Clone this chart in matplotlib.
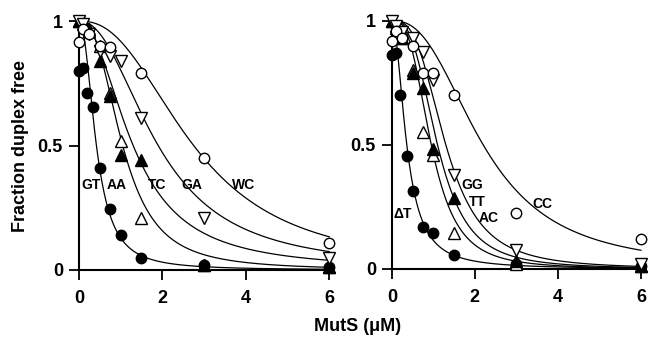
#!/usr/bin/env python3
"""
plot.py
-------
MutS binding titration: fraction of duplex left free vs MutS concentration,
two panels (mismatch sets), points + Hill-type fit curves.
"""

import numpy as np
import matplotlib
matplotlib.use("Agg")  # headless plotting
import matplotlib.pyplot as plt

plt.rcParams["font.family"] = ["Liberation Sans", "DejaVu Sans"]
plt.rcParams["font.weight"] = "bold"

# ── Left panel data ──
gt_x = [0, 0.1, 0.2, 0.35, 0.5, 0.75, 1.0, 1.5, 3.0, 6.0]
gt_y = [0.80, 0.81, 0.71, 0.655, 0.41, 0.245, 0.14, 0.05, 0.02, 0.01]
aa_x = [0, 0.1, 0.25, 0.5, 0.75, 1.0, 1.5, 3.0, 6.0]
aa_y = [1.0, 0.99, 0.96, 0.90, 0.71, 0.52, 0.21, 0.02, 0.01]
tc_x = [0, 0.1, 0.25, 0.5, 0.75, 1.0, 1.5, 3.0, 6.0]
tc_y = [1.0, 1.0, 0.97, 0.84, 0.70, 0.46, 0.44, 0.02, 0.01]
ga_x = [0, 0.1, 0.25, 0.5, 0.75, 1.0, 1.5, 3.0, 6.0]
ga_y = [1.0, 0.99, 0.95, 0.88, 0.86, 0.84, 0.61, 0.21, 0.05]
wc_x = [0, 0.1, 0.25, 0.5, 0.75, 1.5, 3.0, 6.0]
wc_y = [0.915, 0.97, 0.95, 0.90, 0.895, 0.79, 0.45, 0.11]

# ── Right panel data ──
dt_x = [0, 0.1, 0.2, 0.375, 0.5, 0.75, 1.0, 1.5, 3.0, 6.0]
dt_y = [0.86, 0.87, 0.70, 0.455, 0.315, 0.17, 0.145, 0.056, 0.02, 0.01]
ac_x = [0, 0.1, 0.25, 0.5, 0.75, 1.0, 1.5, 3.0, 6.0]
ac_y = [1.0, 0.97, 0.93, 0.80, 0.55, 0.46, 0.145, 0.02, 0.01]
tt_x = [0, 0.1, 0.25, 0.5, 0.75, 1.0, 1.5, 3.0, 6.0]
tt_y = [1.0, 0.98, 0.93, 0.79, 0.73, 0.485, 0.285, 0.03, 0.01]
gg_x = [0, 0.1, 0.25, 0.5, 0.75, 1.0, 1.5, 3.0, 6.0]
gg_y = [1.0, 0.98, 0.955, 0.93, 0.875, 0.76, 0.38, 0.077, 0.02]
cc_x = [0, 0.1, 0.25, 0.5, 0.75, 1.0, 1.5, 3.0, 6.0]
cc_y = [0.92, 0.96, 0.93, 0.90, 0.79, 0.79, 0.70, 0.225, 0.12]

# fit curves: f = 1 / (1 + (x/K)^n), K and n
left_names = ["GT", "AA", "TC", "GA", "WC"]
left_K = [0.42, 1.05, 1.3, 1.9, 2.75]
left_n = [2.2, 2.6, 2.1, 2.2, 2.4]
right_names = ["ΔT", "AC", "TT", "GG", "CC"]
right_K = [0.36, 0.95, 1.1, 1.3, 2.2]
right_n = [2.0, 3.0, 3.0, 3.0, 2.5]

# label positions (data coords)
left_lab_x = [0.29, 0.91, 1.87, 2.7, 3.94]
left_lab_y = [0.34, 0.34, 0.34, 0.34, 0.34]
right_lab_x = [0.27, 2.32, 2.05, 1.94, 3.62]
right_lab_y = [0.22, 0.205, 0.27, 0.34, 0.26]

# marker styles: (marker, filled)
STYLES = [("o", True), ("^", False), ("^", True), ("v", False), ("o", False)]


def hill(x, K, n):
    return 1.0 / (1.0 + (x / K) ** n)


def draw_panel(ax, series, names, Ks, ns, lab_x, lab_y):
    xs = np.linspace(0, 6, 400)
    for K, n in zip(Ks, ns):
        ax.plot(xs, hill(xs, K, n), "k-", lw=0.9, clip_on=False, zorder=2)

    for (x, y), (m, filled) in zip(series, STYLES):
        ms = 7.5 if m == "o" else 8
        ax.plot(x, y, linestyle="none", marker=m, ms=ms,
                mfc="black" if filled else "white", mec="black", mew=1.0,
                clip_on=False, zorder=3)

    for name, tx, ty in zip(names, lab_x, lab_y):
        ax.text(tx, ty, name, ha="center", va="center", fontsize=10,
                fontweight="bold", zorder=4)

    ax.set_xlim(0, 6)
    ax.set_ylim(0, 1)
    ax.set_xticks([0, 2, 4, 6])
    ax.set_yticks([0, 0.5, 1])
    ax.set_yticklabels(["0", "0.5", "1"])
    ax.spines["top"].set_visible(False)
    ax.spines["right"].set_visible(False)
    for s in ("left", "bottom"):
        ax.spines[s].set_linewidth(1.5)
    ax.tick_params(axis="both", direction="out", length=7.5, width=1.3,
                   labelsize=13)
    ax.tick_params(axis="x", pad=7)
    ax.tick_params(axis="y", pad=4)
    for lab in ax.get_xticklabels() + ax.get_yticklabels():
        lab.set_fontweight("bold")


def main():
    fig = plt.figure(figsize=(6.52, 3.4), dpi=100)
    ax1 = fig.add_axes([0.121, 0.206, 0.384, 0.732])
    ax2 = fig.add_axes([0.601, 0.209, 0.382, 0.730])

    left = [(gt_x, gt_y), (aa_x, aa_y), (tc_x, tc_y), (ga_x, ga_y), (wc_x, wc_y)]
    right = [(dt_x, dt_y), (ac_x, ac_y), (tt_x, tt_y), (gg_x, gg_y), (cc_x, cc_y)]

    draw_panel(ax1, left, left_names, left_K, left_n, left_lab_x, left_lab_y)
    draw_panel(ax2, right, right_names, right_K, right_n, right_lab_x, right_lab_y)

    ax1.set_ylabel("Fraction duplex free", fontsize=13, fontweight="bold",
                   labelpad=6)
    fig.text(0.548, 0.04, "MutS (μM)", ha="center", va="center",
             fontsize=13, fontweight="bold")

    fig.savefig("out.png", dpi=100)
    plt.close(fig)


if __name__ == "__main__":
    main()
